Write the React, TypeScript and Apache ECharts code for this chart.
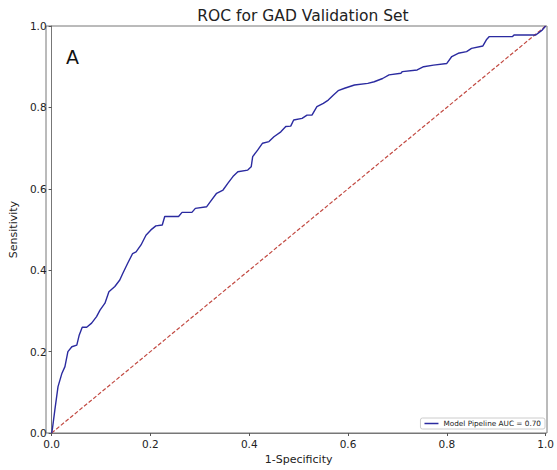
import React, { useEffect, useRef } from "react";
import * as echarts from "echarts";

const fpr = [0, 0.0013, 0.0066, 0.013, 0.021, 0.027, 0.033, 0.041, 0.051, 0.056, 0.062, 0.071, 0.081, 0.091, 0.098, 0.108, 0.116, 0.128, 0.138, 0.144, 0.154, 0.164, 0.171, 0.181, 0.191, 0.201, 0.211, 0.224, 0.229, 0.257, 0.264, 0.284, 0.291, 0.314, 0.321, 0.334, 0.347, 0.357, 0.367, 0.377, 0.397, 0.404, 0.407, 0.417, 0.427, 0.44, 0.45, 0.464, 0.474, 0.484, 0.49, 0.507, 0.517, 0.527, 0.537, 0.55, 0.56, 0.57, 0.58, 0.593, 0.613, 0.64, 0.653, 0.67, 0.683, 0.707, 0.71, 0.74, 0.753, 0.773, 0.8, 0.81, 0.823, 0.84, 0.85, 0.873, 0.88, 0.886, 0.933, 0.936, 0.98, 0.993, 1.0];
const tpr = [0, 0.007, 0.057, 0.114, 0.147, 0.163, 0.2, 0.212, 0.216, 0.241, 0.26, 0.26, 0.27, 0.286, 0.302, 0.319, 0.347, 0.36, 0.376, 0.392, 0.417, 0.441, 0.445, 0.462, 0.486, 0.499, 0.509, 0.511, 0.532, 0.532, 0.542, 0.542, 0.552, 0.556, 0.568, 0.589, 0.597, 0.614, 0.63, 0.642, 0.646, 0.654, 0.679, 0.695, 0.712, 0.716, 0.728, 0.74, 0.753, 0.754, 0.769, 0.773, 0.781, 0.781, 0.802, 0.81, 0.818, 0.83, 0.841, 0.847, 0.855, 0.859, 0.863, 0.871, 0.88, 0.884, 0.888, 0.892, 0.9, 0.904, 0.908, 0.925, 0.933, 0.937, 0.945, 0.951, 0.966, 0.974, 0.974, 0.978, 0.978, 0.99, 1.0];
const chanceLine = [[0, 0], [1, 1]];
const tickLabels = ["0.0", "0.2", "0.4", "0.6", "0.8", "1.0"];

export default function App() {
  const ref = useRef<HTMLDivElement>(null);
  useEffect(() => {
    if (!ref.current) return;
    const chart = echarts.init(ref.current, null, { renderer: "svg" });
    const font = "DejaVu Sans";
    const axisCommon = {
      min: 0,
      max: 1,
      interval: 0.2,
      axisLine: { show: true, lineStyle: { color: "#777", width: 1 } },
      axisTick: { show: true, length: 3, lineStyle: { color: "#555" } },
      splitLine: { show: false },
      axisLabel: {
        color: "#222",
        fontSize: 10.5,
        fontFamily: font,
        margin: 5,
        formatter: (v: number) => tickLabels[Math.round(v * 5)],
      },
      nameLocation: "middle" as const,
      nameTextStyle: { color: "#222", fontSize: 11, fontFamily: font },
    };
    chart.setOption({
      animation: false,
      backgroundColor: "#fff",
      title: {
        text: "ROC for GAD Validation Set",
        left: 298,
        textAlign: "center",
        top: 3,
        textStyle: { fontSize: 15.5, fontWeight: "normal", color: "#222", fontFamily: font },
      },
      grid: { left: 46, right: 10, top: 26, bottom: 37 },
      xAxis: { type: "value", ...axisCommon, name: "1-Specificity", nameGap: 17 },
      yAxis: { type: "value", ...axisCommon, name: "Sensitivity", nameGap: 30 },
      legend: {
        right: 12,
        bottom: 41,
        orient: "vertical",
        data: [{ name: "Model Pipeline AUC = 0.70", icon: "rect" }],
        itemWidth: 14,
        itemHeight: 1.5,
        itemGap: 4,
        padding: [2, 4, 2, 4],
        borderColor: "#ccc",
        borderWidth: 1,
        borderRadius: 2,
        textStyle: { fontSize: 7.3, color: "#222", fontFamily: font },
      },
      graphic: [
        {
          type: "rect",
          shape: { x: 46, y: 26, width: 501, height: 407 },
          style: { fill: "none", stroke: "#777", lineWidth: 1 },
          silent: true,
          z: 0,
        },
        {
          type: "text",
          left: 66,
          top: 47,
          style: { text: "A", fontSize: 19, fill: "#111", fontFamily: font },
        },
      ],
      series: [
        {
          name: "chance",
          type: "line",
          data: chanceLine,
          showSymbol: false,
          lineStyle: { color: "#c24a42", width: 1.2, type: [4, 2] },
          z: 2,
        },
        {
          name: "Model Pipeline AUC = 0.70",
          type: "line",
          data: fpr.map((x, i) => [x, tpr[i]]),
          showSymbol: false,
          itemStyle: { color: "#2b2ba0" },
          lineStyle: { color: "#2b2ba0", width: 1.4 },
          z: 3,
        },
      ],
    });
    return () => chart.dispose();
  }, []);
  return (
    <div
      ref={ref}
      style={{ position: "absolute", left: 0, top: 0, width: 557, height: 470 }}
    />
  );
}
